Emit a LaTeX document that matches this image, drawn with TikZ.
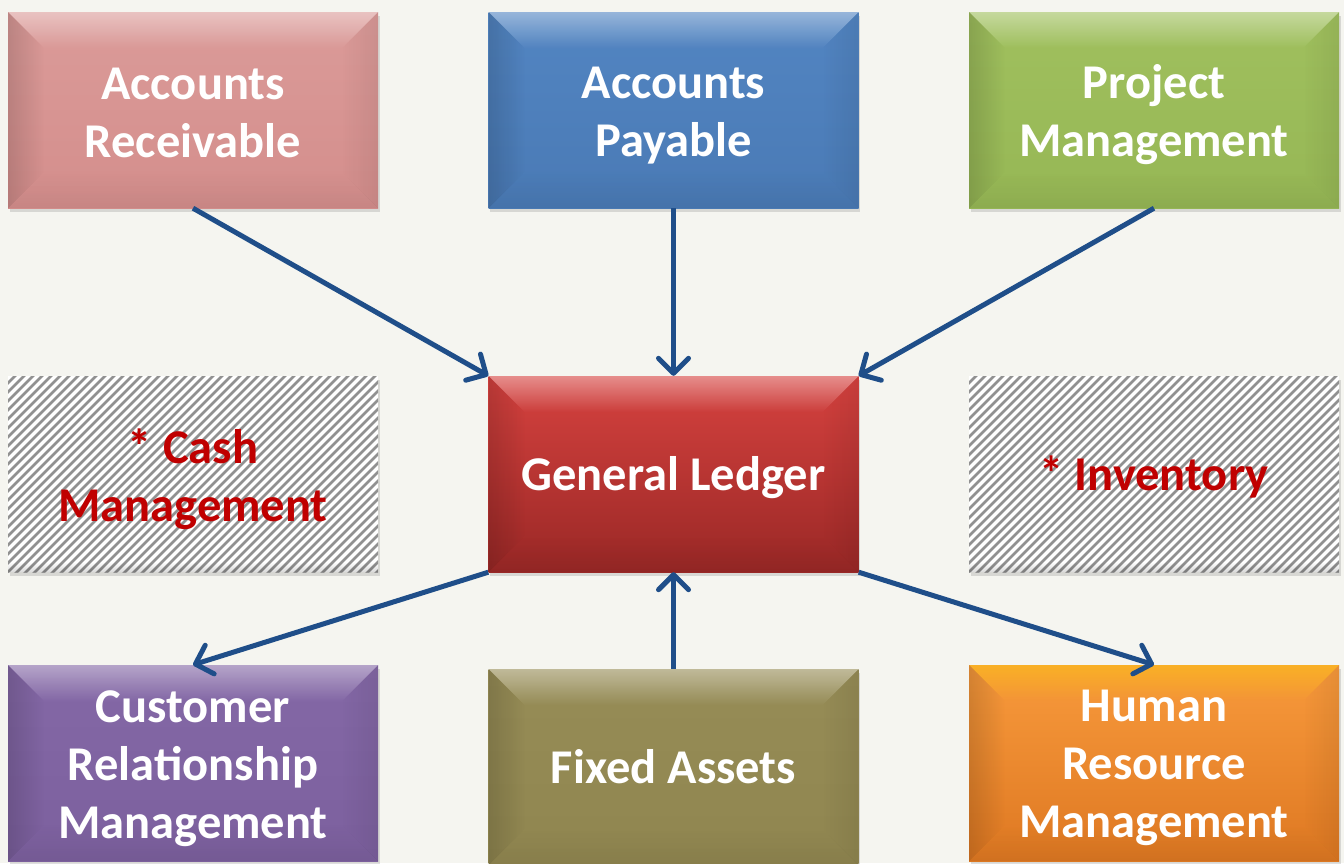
\documentclass[tikz,border=0pt]{standalone}
\usepackage{fontspec}
\setmainfont{Carlito}
\usetikzlibrary{arrows.meta,calc,fadings,shadows}
\definecolor{bg}{RGB}{245,245,240}
\definecolor{arrowblue}{RGB}{31,78,137}
\definecolor{hatchred}{RGB}{192,0,0}
\definecolor{stripe}{RGB}{145,145,145}
\definecolor{arA}{RGB}{219,155,153}\definecolor{arB}{RGB}{212,142,140}
\definecolor{apA}{RGB}{82,133,194}\definecolor{apB}{RGB}{74,122,181}
\definecolor{pmA}{RGB}{160,192,94}\definecolor{pmB}{RGB}{150,183,85}
\definecolor{glA}{RGB}{214,66,63}\definecolor{glB}{RGB}{154,40,38}
\definecolor{crA}{RGB}{132,104,166}\definecolor{crB}{RGB}{124,96,158}
\definecolor{faA}{RGB}{150,140,86}\definecolor{faB}{RGB}{144,134,80}
\definecolor{hrA}{RGB}{248,154,60}\definecolor{hrB}{RGB}{222,120,34}
\colorlet{hlc}{white}
\tikzset{
  hl/.code={\colorlet{hlc}{#1}},
  boxbase/.style={minimum width=370pt, minimum height=196pt, inner sep=0pt,
    drop shadow={opacity=0.25, shadow xshift=1.5pt, shadow yshift=-4pt}},
  bevbox/.style 2 args={boxbase, top color=#1, bottom color=#2,
    path picture={
      \coordinate (pnw) at (path picture bounding box.north west);
      \coordinate (pne) at (path picture bounding box.north east);
      \coordinate (psw) at (path picture bounding box.south west);
      \coordinate (pse) at (path picture bounding box.south east);
      \fill[hlc, path fading=south, fill opacity=0.4]
        (pnw) -- (pne) -- ($(pne)+(-36,36)$) -- ($(pnw)+(36,36)$) -- cycle;
      \fill[black, path fading=east, fill opacity=0.14]
        (pnw) -- ($(pnw)+(36,36)$) -- ($(psw)+(36,-36)$) -- (psw) -- cycle;
      \fill[black, path fading=west, fill opacity=0.07]
        (pne) -- ($(pne)+(-36,36)$) -- ($(pse)+(-36,-36)$) -- (pse) -- cycle;
      \fill[black, path fading=north, fill opacity=0.06]
        (psw) -- ($(psw)+(36,-36)$) -- ($(pse)+(-36,-36)$) -- (pse) -- cycle;
    }},
  hatchbox/.style={boxbase, fill=white,
    path picture={
      \foreach \i in {-220,-211,...,400}
        \draw[stripe, line width=2.6pt]
          ($(path picture bounding box.south west)+(\i,4)$) -- ++(210,-210);
      \fill[black, path fading=north, fill opacity=0.15]
        ($(path picture bounding box.south west)+(0,-10)$) rectangle (path picture bounding box.south east);
    }},
  label/.style={inner sep=0pt, align=center, font=\bfseries\fontsize{48.5}{58}\selectfont},
  wlabel/.style={label, text=white},
  rlabel/.style={label, text=hatchred},
  arr/.style={draw=arrowblue, line width=5pt,
    -{Straight Barb[length=15pt,width=30pt,round]}}
}
\begin{document}
\begin{tikzpicture}[x=1pt,y=-1pt]
\useasboundingbox (0,0) rectangle (1344,863);
\fill[bg] (0,0) rectangle (1344,863);

\node[bevbox={arA}{arB}] (ar) at (193,110) {};
\node[bevbox={apA}{apB}] (ap) at (673.5,110) {};
\node[bevbox={pmA}{pmB}] (pm) at (1154,110) {};
\node[hatchbox] (cm) at (193,474) {};
\node[bevbox={glA}{glB}] (gl) at (673.5,474) {};
\node[hatchbox] (inv) at (1154,474) {};
\node[bevbox={crA}{crB}] (crm) at (193,763) {};
\node[bevbox={faA}{faB}] (fa) at (673.5,767) {};
\node[bevbox={hrA}{hrB}, hl={yellow!70!orange}] (hr) at (1154,763) {};

\node[wlabel] (arT) at ($(ar.center)+(0,3)$) {Accounts\\Receivable};
\node[wlabel] (apT) at ($(ap.center)+(0,6)$) {Accounts\\Payable};
\node[wlabel] (pmT) at ($(pm.center)+(0,5)$) {Project\\Management};
\node[rlabel] (cmT) at ($(cm.center)+(0,5)$) {* Cash\\Management};
\node[wlabel] (glT) at ($(gl.center)+(0,4)$) {General Ledger};
\node[rlabel] (invT) at ($(inv.center)+(0,3)$) {* Inventory};
\node[wlabel] (crmT) at ($(crm.center)+(0,6)$) {Customer\\Relationship\\Management};
\node[wlabel] (faT) at ($(fa.center)+(0,0)$) {Fixed Assets};
\node[wlabel] (hrT) at ($(hr.center)+(0,5)$) {Human\\Resource\\Management};

\draw[arr] (ar.south) -- (gl.north west);
\draw[arr] (ap.south) -- (gl.north);
\draw[arr] (pm.south) -- (gl.north east);
\draw[arr] (gl.south west) -- (crm.north);
\draw[arr] (fa.north) -- (gl.south);
\draw[arr] (gl.south east) -- (hr.north);
\end{tikzpicture}
\end{document}
